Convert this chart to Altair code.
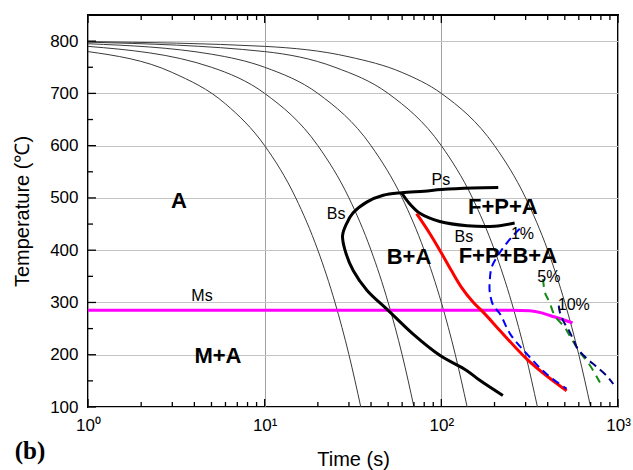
import altair as alt
import pandas as pd

# ---- constant-rate cooling paths: time (s) / temperature (°C) ----
cool_20_t = [1, 3, 6, 10, 15, 20, 25, 30, 35]
cool_20_T = [780, 740, 680, 600, 500, 400, 300, 200, 100]
cool_10_t = [1, 5, 10, 20, 30, 40, 50, 60, 70]
cool_10_T = [790, 750, 700, 600, 500, 400, 300, 200, 100]
cool_5_t = [1, 5, 10, 20, 40, 60, 80, 100, 120, 140]
cool_5_T = [795, 775, 750, 700, 600, 500, 400, 300, 200, 100]
cool_2_t = [1, 10, 25, 50, 100, 150, 200, 250, 300, 350]
cool_2_T = [798, 780, 750, 700, 600, 500, 400, 300, 200, 100]
cool_1_t = [1, 10, 30, 60, 100, 200, 300, 400, 500, 600, 700]
cool_1_T = [799, 790, 770, 740, 700, 600, 500, 400, 300, 200, 100]

# ---- transformation start lines ----
# bainite start (C-shaped) running into the pearlite start line
bs_ps_t = [223, 165, 139, 98, 69, 50, 38, 31.7, 28.5, 27.6, 29.1, 31.6, 37.8,
           46.9, 59.6, 80, 100, 150, 210]
bs_ps_T = [122, 151, 170, 199, 240, 285, 323, 361, 400, 428, 451, 471, 492,
           505, 510, 513, 516, 519, 520]
# second bainite start branch
bs2_t = [59.6, 65, 76, 98, 140, 200, 260]
bs2_T = [510, 492, 470, 455, 447, 446, 452]
# red boundary
red_t = [72.4, 86, 98, 114, 130, 152, 173, 215, 304, 512]
red_T = [470, 432, 400, 361, 329, 300, 281, 246, 192, 131]
# martensite start
ms_t = [1, 250, 317, 370, 412, 490, 553]
ms_T = [285, 285, 284, 280, 275, 267, 261]
# transformed fraction lines
f1_t = [278, 250, 215, 193, 188, 188, 197, 215, 245, 304, 394, 512]
f1_T = [441, 425, 396, 368, 342, 320, 294, 278, 240, 202, 163, 135]
f5_t = [377, 385, 410, 438, 500, 534, 608, 693, 790]
f5_T = [345, 320, 300, 275, 252, 236, 205, 180, 147]
f10_t = [462, 470, 495, 530, 560, 595, 680, 750, 860, 940]
f10_T = [294, 280, 262, 245, 228, 210, 190, 178, 160, 144]

# ---- annotations ----
region_text = ["A", "M+A", "B+A", "F+P+B+A", "F+P+A"]
region_t = [3.27, 5.44, 65.6, 238, 223]
region_T = [494, 198, 387, 388, 483]
small_text = ["Ps", "Bs", "Bs", "Ms", "1%", "5%", "10%"]
small_t = [99.4, 25.4, 134, 4.42, 288, 406, 562]
small_T = [534, 470, 426, 312, 431, 349, 295]

# ---- axis ticks ----
x_major = [1, 10, 100, 1000]
x_minor = [m * d for d in (1, 10, 100) for m in range(2, 10)]
y_major = [100, 200, 300, 400, 500, 600, 700, 800]
y_minor = [150, 250, 350, 450, 550, 650, 750]

FONT = "Liberation Sans"
W, H = 530, 392

x_axis = alt.Axis(
    values=x_major,
    labelExpr="datum.value == 1 ? '10⁰' : datum.value == 10 ? '10¹' : "
              "datum.value == 100 ? '10²' : '10³'",
    title="Time (s)", grid=True, gridColor="#a0a0a0", gridWidth=1,
    ticks=False, tickSize=0, domain=False, labelFlush=False, labelOverlap=False,
    labelFont=FONT, labelFontSize=17, labelColor="black", labelPadding=10,
    titleFont=FONT, titleFontSize=20, titleFontWeight="normal", titleColor="black",
    titlePadding=16,
)
y_axis = alt.Axis(
    values=y_major, title="Temperature (℃)", grid=True, gridColor="#c4c4c4",
    gridWidth=1, ticks=False, tickSize=0, domain=False, labelOverlap=False,
    labelFont=FONT, labelFontSize=17, labelColor="black", labelPadding=10,
    titleFont=FONT, titleFontSize=20, titleFontWeight="normal", titleColor="black",
    titlePadding=17,
)
xs = alt.Scale(type="log", domain=[1, 1000])
ys = alt.Scale(domain=[100, 850])


def X(field="t"):
    return alt.X(f"{field}:Q", scale=xs, axis=x_axis)


def Y(field="T"):
    return alt.Y(f"{field}:Q", scale=ys, axis=y_axis)


def path_frame(named):
    rows = []
    for name, (ts, Ts) in named.items():
        for i, (a, b) in enumerate(zip(ts, Ts)):
            rows.append({"series": name, "i": i, "t": a, "T": b})
    return pd.DataFrame(rows)


def line_layer(ts, Ts, color, width, dash=None, interp="catmull-rom"):
    df = path_frame({"s": (ts, Ts)})
    kw = dict(color=color, strokeWidth=width, interpolate=interp, clip=True)
    if dash:
        kw["strokeDash"] = dash
    return alt.Chart(df).mark_line(**kw).encode(x=X(), y=Y(), order="i:Q")


cooling = alt.Chart(path_frame({
    "20": (cool_20_t, cool_20_T), "10": (cool_10_t, cool_10_T),
    "5": (cool_5_t, cool_5_T), "2": (cool_2_t, cool_2_T), "1": (cool_1_t, cool_1_T),
})).mark_line(color="#3a3a3a", strokeWidth=1, interpolate="monotone", clip=True).encode(
    x=X(), y=Y(), detail="series:N", order="i:Q")

ms_line = line_layer(ms_t, ms_T, "#ff00ff", 3, interp="monotone")
bs_line = line_layer(bs_ps_t, bs_ps_T, "black", 3)
bs2_line = line_layer(bs2_t, bs2_T, "black", 3)
red_line = line_layer(red_t, red_T, "#ff0000", 3, interp="monotone")
f1_line = line_layer(f1_t, f1_T, "#0000ff", 2, dash=[8, 5])
f5_line = line_layer(f5_t, f5_T, "#138a13", 2, dash=[8, 6])
f10_line = line_layer(f10_t, f10_T, "#000080", 2, dash=[8, 5])

# inward tick marks on the bottom, top and left edges
xt_major = pd.DataFrame({"t": x_major})
xt_minor = pd.DataFrame({"t": x_minor})
yt_major = pd.DataFrame({"T": y_major})
yt_minor = pd.DataFrame({"T": y_minor})
tick = dict(color="black", strokeWidth=1.3)
ticks = [
    alt.Chart(xt_major).mark_rule(**tick).encode(x=X(), y=alt.value(H), y2=alt.value(H - 8)),
    alt.Chart(xt_minor).mark_rule(**tick).encode(x=X(), y=alt.value(H), y2=alt.value(H - 5)),
    alt.Chart(xt_major).mark_rule(**tick).encode(x=X(), y=alt.value(0), y2=alt.value(8)),
    alt.Chart(xt_minor).mark_rule(**tick).encode(x=X(), y=alt.value(0), y2=alt.value(5)),
    alt.Chart(yt_major).mark_rule(**tick).encode(y=Y(), x=alt.value(0), x2=alt.value(8)),
    alt.Chart(yt_minor).mark_rule(**tick).encode(y=Y(), x=alt.value(0), x2=alt.value(5)),
]

regions = alt.Chart(pd.DataFrame({"t": region_t, "T": region_T, "label": region_text})).mark_text(
    font=FONT, fontSize=22, fontWeight="bold", color="black", align="center", baseline="middle"
).encode(x=X(), y=Y(), text="label:N")

small = alt.Chart(pd.DataFrame({"t": small_t, "T": small_T, "label": small_text})).mark_text(
    font=FONT, fontSize=16, color="black", align="center", baseline="middle"
).encode(x=X(), y=Y(), text="label:N")

panel = alt.Chart(pd.DataFrame({"t": [0.47], "T": [16.5], "label": ["(b)"]})).mark_text(
    font="Liberation Serif", fontSize=25, fontWeight="bold", color="black",
    align="center", baseline="middle", clip=False
).encode(x=X(), y=Y(), text="label:N")

chart = alt.layer(
    cooling, ms_line, bs_line, bs2_line, red_line, f1_line, f5_line, f10_line,
    *ticks, regions, small, panel,
).properties(
    width=W, height=H, autosize="none",
    padding={"left": 88, "top": 15, "right": 15, "bottom": 63},
).configure_view(stroke="black", strokeWidth=2)

chart.save("out.html", embed_options={"renderer": "svg", "actions": False})
